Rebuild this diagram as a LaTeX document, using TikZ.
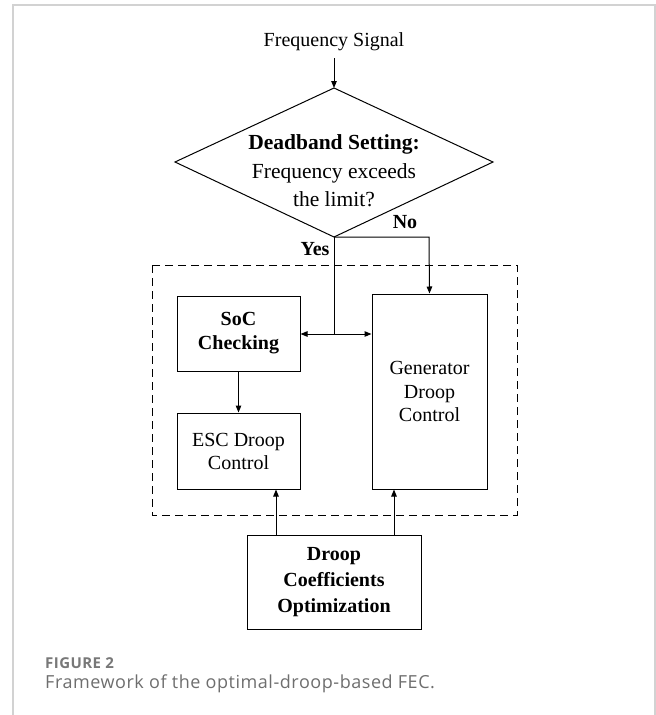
\documentclass[tikz,border=0pt]{standalone}
\usepackage{fontspec}
\setmainfont{Liberation Serif}
\newfontfamily\capfont[LetterSpace=3]{Open Sans}
\usetikzlibrary{shapes.geometric,arrows.meta}
\definecolor{framegray}{RGB}{210,210,210}
\definecolor{capgray}{RGB}{110,110,110}
\definecolor{figgray}{RGB}{120,120,120}
\begin{document}
\begin{tikzpicture}[x=1pt,y=-1pt,
  conn/.style={line width=1pt,-{Triangle[length=7pt,width=5.5pt]}},
  plain/.style={line width=1pt},
  boxstyle/.style={draw,line width=1pt,rectangle,inner sep=0pt,align=center},
  txt/.style={font=\fontsize{20}{24}\selectfont,align=center,inner sep=0pt}]
\useasboundingbox (0,0) rectangle (656,715);
\draw[framegray,line width=1.2pt] (13,715) -- (13,5) -- (655,5) -- (655,715);
% top label
\node[txt] (sig) at (334,42) {Frequency Signal};
% diamond
\coordinate (dt) at (334,88);
\coordinate (dl) at (175,162);
\coordinate (dr) at (493,162);
\coordinate (db) at (334,237);
\draw[plain] (dt) -- (dr) -- (db) -- (dl) -- cycle;
\node[txt,font=\fontsize{21.5}{28.5}\selectfont] (dtext) at (334,171)
  {\textbf{Deadband Setting:}\\Frequency exceeds\\the limit?};
\draw[conn] (334,58) -- (dt);
% labels
\node[txt,font=\bfseries\fontsize{20}{24}\selectfont] (no) at (405,222) {No};
\node[txt,font=\bfseries\fontsize{20}{24}\selectfont] (yes) at (315,249) {Yes};
% dashed container
\draw[dashed,line width=1pt,dash pattern=on 8pt off 5pt] (152,265) rectangle (517,515);
% boxes
\node[boxstyle,minimum width=123pt,minimum height=75pt,font=\bfseries\fontsize{20}{24}\selectfont] (soc) at (238.5,333.5) {SoC\\Checking};
\node[boxstyle,minimum width=123pt,minimum height=76pt,font=\fontsize{20}{23}\selectfont] (esc) at (238.5,451) {ESC Droop\\Control};
\node[boxstyle,minimum width=115pt,minimum height=195pt,font=\fontsize{20}{23.5}\selectfont] (gen) at (429.5,391.5) {Generator\\Droop\\Control};
\node[boxstyle,minimum width=174pt,minimum height=94pt,font=\bfseries\fontsize{20}{26}\selectfont] (opt) at (334,582) {Droop\\Coefficients\\Optimization};
% connectors
\coordinate (j) at (334,334);
\coordinate (nocorner) at (429,237);
\draw[plain] (db) -- (j);
\draw[conn] (j) -- (soc.east |- j);
\draw[conn] (j) -- (gen.west |- j);
\draw[conn] (db) -- (nocorner) -- (gen.north);
\draw[conn] (soc.south) -- (esc.north);
\draw[conn] (opt.north -| 276,0) -- (esc.south -| 276,0);
\draw[conn] (opt.north -| 394,0) -- (gen.south -| 394,0);
% caption
\node[anchor=base west,inner sep=0pt,text=figgray,font=\capfont\bfseries\fontsize{15}{17}\selectfont] (fig) at (45,668) {FIGURE 2};
\node[anchor=base west,inner sep=0pt,text=capgray,font=\capfont\fontsize{18}{20}\selectfont] (cap) at (45,688) {Framework of the optimal-droop-based FEC.};
\end{tikzpicture}
\end{document}
